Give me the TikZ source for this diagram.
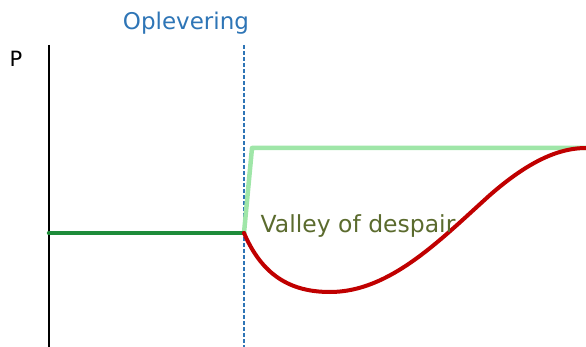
\documentclass[tikz,border=0pt]{standalone}
\usepackage{fontspec}
\setmainfont{DejaVu Sans}
\definecolor{axisblue}{HTML}{2E75B6}
\definecolor{darkgreen}{HTML}{1E8C3A}
\definecolor{lightgreen}{HTML}{9FE6A8}
\definecolor{darkred}{HTML}{C00000}
\definecolor{olive}{HTML}{5B6B2E}
\begin{document}
\begin{tikzpicture}[x=1pt,y=-1pt,
  lbl/.style={inner sep=0pt, anchor=center},
  curve/.style={line width=4.5pt, line cap=round, line join=round}]
\useasboundingbox (0,0) rectangle (586,347);
% axis
\coordinate (axtop) at (49,45);
\coordinate (axbot) at (49,347);
\draw[line width=2.5pt] (axtop) -- (axbot);
\node[lbl, font=\fontsize{21}{24}\selectfont] (p) at (16,59) {P};
% delivery line
\coordinate (deltop) at (244,45);
\coordinate (delbot) at (244,347);
\draw[axisblue, line width=1.5pt, dash pattern=on 4pt off 2pt] (deltop) -- (delbot);
\node[lbl, axisblue, font=\fontsize{23}{26}\selectfont] (opl) at (186,23) {Oplevering};
% curves
\coordinate (start) at (49,233);
\coordinate (turn) at (244,233);
\coordinate (jump) at (252,148);
\coordinate (endg) at (586,148);
\draw[curve, lightgreen] (turn) -- (jump) -- (endg);
\draw[curve, darkgreen] (start) -- (turn);
\draw[line width=4pt, darkred, line cap=round] (turn) .. controls (262,275) and (290,292) .. (330,292)
  .. controls (390,292) and (440,240) .. (490,195)
  .. controls (530,160) and (560,148) .. (586,148);
\node[lbl, olive, font=\fontsize{23.5}{27}\selectfont] (valley) at (358,226) {Valley of despair};
\end{tikzpicture}
\end{document}
